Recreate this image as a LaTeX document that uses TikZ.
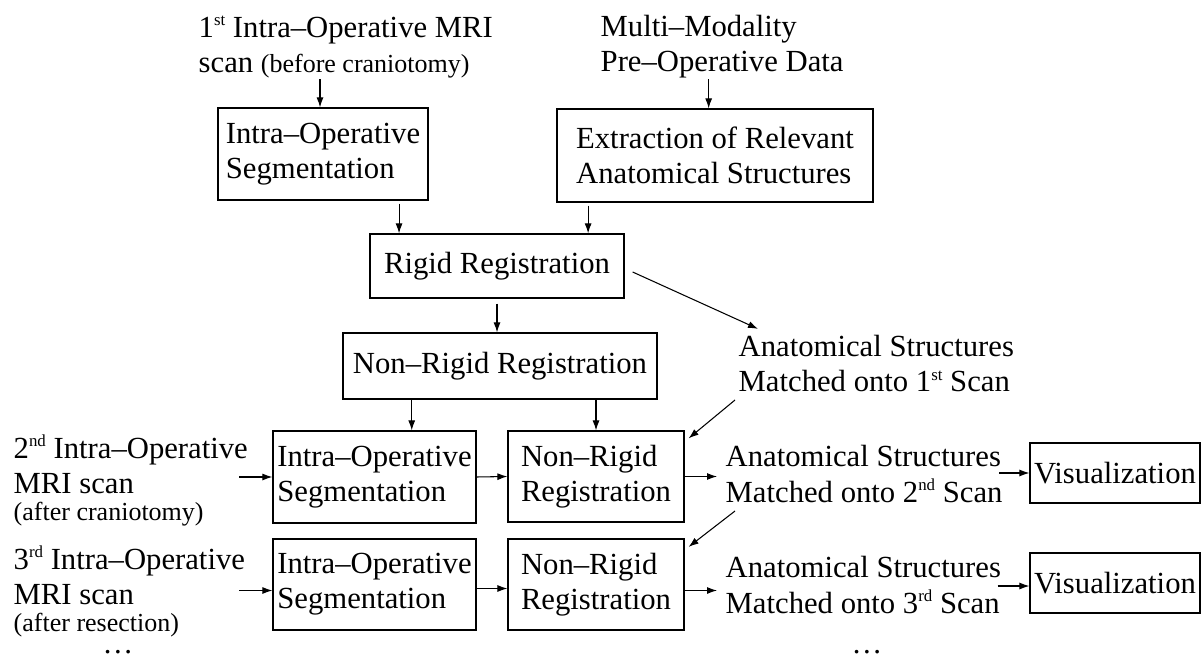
\documentclass[tikz,border=0pt]{standalone}
\usepackage{fontspec}
\setmainfont{Liberation Serif}
\usetikzlibrary{arrows.meta, calc, positioning}

\newcommand{\subnote}[1]{{\fontsize{7.4}{8.5}\selectfont #1}}
\newcommand{\ordsup}[1]{\raisebox{0.85ex}{\fontsize{4.8}{5}\selectfont #1}}

\begin{document}
\begin{tikzpicture}[
    font=\fontsize{8.73}{10}\selectfont,
    stagebox/.style={draw, line width=0.35pt, align=left, inner sep=0pt},
    infotext/.style={align=left, inner sep=0pt, anchor=base west},
    flow/.style={-{Latex[length=0.1cm,width=0.07cm]}, line width=0.3pt},
]
% Frame
\useasboundingbox (0,0) rectangle (12.02,-6.56);

% Inputs
\node[infotext] (scanone) at (1.98,-0.73) {1\ordsup{st} Intra--Operative MRI\\scan \subnote{(before craniotomy)}};
\node[infotext] (predata) at (6.00,-0.72) {Multi--Modality\\Pre--Operative Data};

% First scan
\node[stagebox, minimum width=2.10cm, minimum height=0.92cm] (seg1) at (3.23,-1.54) {Intra--Operative\\Segmentation};
\node[stagebox, minimum width=3.16cm, minimum height=0.93cm] (extract) at (7.15,-1.555) {Extraction of Relevant\\Anatomical Structures};
\node[stagebox, minimum width=2.54cm, minimum height=0.64cm] (rigid) at (4.97,-2.66) {Rigid Registration};
\node[stagebox, minimum width=3.14cm, minimum height=0.66cm] (nonrigid) at (5.00,-3.66) {Non--Rigid Registration};
\node[infotext] (anat1) at (7.38,-3.92) {Anatomical Structures\\Matched onto 1\ordsup{st} Scan};

% Later scans
\node[infotext] (scan2) at (0.13,-5.20) {2\ordsup{nd} Intra--Operative\\MRI scan\\[-0.09cm]\subnote{(after craniotomy)}};
\node[stagebox, minimum width=2.03cm, minimum height=0.92cm] (seg2) at (3.745,-4.77) {Intra--Operative\\Segmentation};
\node[stagebox, minimum width=1.76cm, minimum height=0.91cm] (nrr2) at (5.96,-4.765) {Non--Rigid\\Registration};
\node[infotext] (anat2) at (7.25,-5.02) {Anatomical Structures\\Matched onto 2\ordsup{nd} Scan};
\node[stagebox, minimum width=1.70cm, minimum height=0.60cm] (vis2) at (11.15,-4.73) {Visualization};

\node[infotext] (scan3) at (0.13,-6.31) {3\ordsup{rd} Intra--Operative\\MRI scan\\[-0.09cm]\subnote{(after resection)}};
\node[stagebox, minimum width=2.03cm, minimum height=0.91cm] (seg3) at (3.745,-5.845) {Intra--Operative\\Segmentation};
\node[stagebox, minimum width=1.76cm, minimum height=0.91cm] (nrr3) at (5.96,-5.845) {Non--Rigid\\Registration};
\node[infotext] (anat3) at (7.25,-6.13) {Anatomical Structures\\Matched onto 3\ordsup{rd} Scan};
\node[stagebox, minimum width=1.70cm, minimum height=0.60cm] (vis3) at (11.15,-5.83) {Visualization};

\node[anchor=base, inner sep=0pt] (more1) at (1.18,-6.535) {\dots};
\node[anchor=base, inner sep=0pt] (more2) at (8.67,-6.53) {\dots};

% Connectors
\coordinate (pre) at ($(extract.north west)!0.48!(extract.north east)$);
\coordinate (s1) at ($(seg1.south west)!0.86!(seg1.south east)$);
\coordinate (s2) at ($(extract.south west)!0.10!(extract.south east)$);
\coordinate (n1) at ($(nonrigid.south west)!0.22!(nonrigid.south east)$);

\draw[flow] ([xshift=-0.03cm]seg1.north |- scanone.south) -- ([xshift=-0.03cm]seg1.north);
\draw[flow] (pre |- predata.south) -- (pre);
\draw[flow, shorten <=0.03cm] (s1) -- (s1 |- rigid.north);
\draw[flow, shorten <=0.03cm] (s2) -- (s2 |- rigid.north);
\draw[flow, shorten <=0.05cm] (rigid.south) -- (rigid.south |- nonrigid.north);
\draw[flow] (n1) -- (n1 |- seg2.north);
\draw[flow] (nrr2.north |- nonrigid.south) -- (nrr2.north);
\draw[flow] ([shift={(0.08,-0.06)}]rigid.east) -- ([shift={(0.2,0.06)}]anat1.north west);
\draw[flow] ([shift={(-0.03,-0.07)}]anat1.south west) -- ([shift={(0.04,-0.08)}]nrr2.north east);
\draw[flow] ([shift={(0.10,-0.08)}]anat2.south west) -- ([shift={(0.04,-0.085)}]nrr3.north east);

% Rows
\draw[flow] ([xshift=-0.33cm]seg2.west) -- (seg2.west);
\draw[flow] (seg2.east) -- (nrr2.west);
\draw[flow, shorten >=0.08cm] (nrr2.east) -- (nrr2.east -| anat2.west);
\draw[flow] ([xshift=-0.04cm]anat2.east |- vis2.west) -- (vis2.west);

\draw[flow] ([xshift=-0.33cm, yshift=-0.06cm]seg3.west) -- ([yshift=-0.06cm]seg3.west);
\draw[flow] ([yshift=-0.04cm]seg3.east) -- ([yshift=-0.04cm]nrr3.west);
\draw[flow, shorten >=0.08cm] ([yshift=-0.06cm]nrr3.east) -- ([yshift=-0.06cm]nrr3.east -| anat3.west);
\draw[flow] ([xshift=-0.04cm, yshift=-0.03cm]anat3.east |- vis3.west) -- ([yshift=-0.03cm]vis3.west);
\end{tikzpicture}
\end{document}
